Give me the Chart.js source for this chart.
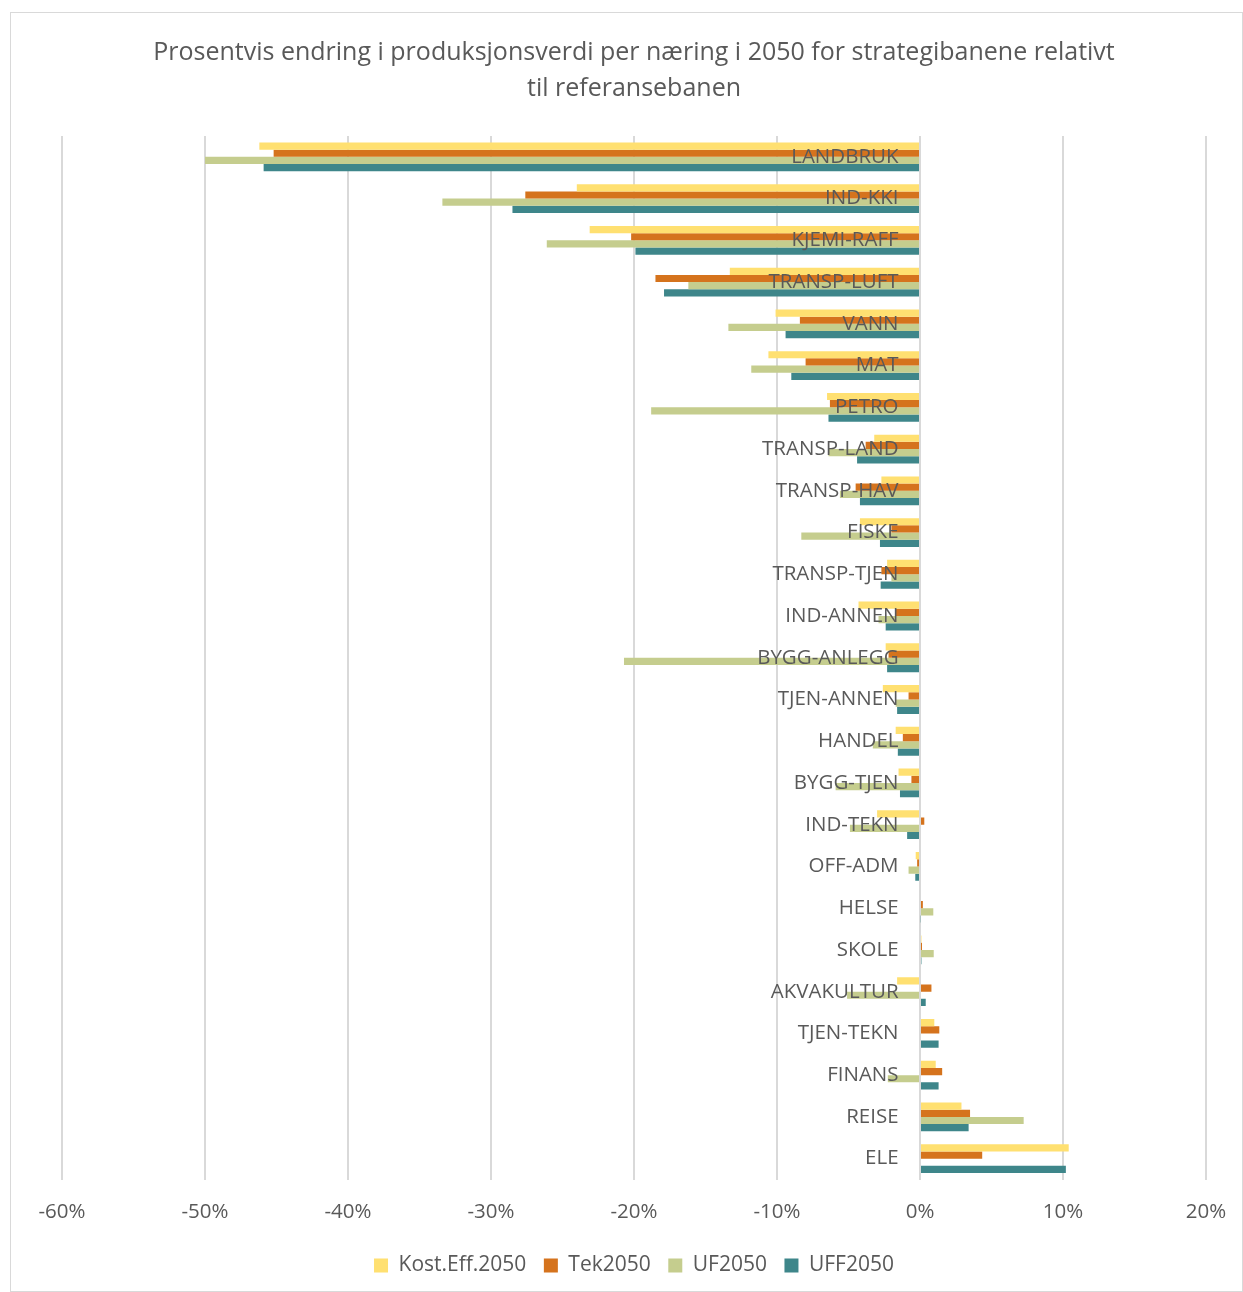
<!DOCTYPE html>
<html>
<head>
<meta charset="utf-8">
<script src="https://cdn.jsdelivr.net/npm/chart.js@4.4.1/dist/chart.umd.min.js"></script>
<style>
  body { margin: 0; background: #fff; }
  #wrap { position: absolute; left: 10px; top: 12px; width: 1231px; height: 1278px; border: 1px solid #d9d9d9; }
</style>
</head>
<body>
<div id="wrap"><canvas id="chart"></canvas></div>
<script>
const categories = ['LANDBRUK', 'IND-KKI', 'KJEMI-RAFF', 'TRANSP-LUFT', 'VANN', 'MAT', 'PETRO',
  'TRANSP-LAND', 'TRANSP-HAV', 'FISKE', 'TRANSP-TJEN', 'IND-ANNEN', 'BYGG-ANLEGG', 'TJEN-ANNEN',
  'HANDEL', 'BYGG-TJEN', 'IND-TEKN', 'OFF-ADM', 'HELSE', 'SKOLE', 'AKVAKULTUR', 'TJEN-TEKN',
  'FINANS', 'REISE', 'ELE'];

// values in percent
const kostEff2050 = [-46.2, -24.0, -23.1, -13.3, -10.1, -10.6, -6.5, -3.2, -2.7, -4.2, -2.3, -4.3, -2.4,
  -2.6, -1.7, -1.5, -3.0, -0.3, 0.07, 0.1, -1.6, 1.0, 1.1, 2.9, 10.4];
const tek2050 = [-45.2, -27.6, -20.2, -18.5, -8.4, -8.0, -6.3, -3.8, -4.5, -2.0, -2.7, -1.7, -2.2,
  -0.8, -1.2, -0.6, 0.3, -0.2, 0.2, 0.14, 0.8, 1.35, 1.55, 3.5, 4.35];
const uf2050 = [-50.0, -33.4, -26.1, -16.2, -13.4, -11.8, -18.8, -6.4, -5.6, -8.3, -2.0, -2.9, -20.7,
  -1.7, -3.3, -5.9, -4.9, -0.8, 0.93, 0.96, -5.1, 0, -2.25, 7.25, 0];
const uff2050 = [-45.9, -28.5, -19.9, -17.9, -9.4, -9.0, -6.4, -4.4, -4.2, -2.8, -2.75, -2.4, -2.3,
  -1.6, -1.55, -1.4, -0.9, -0.33, 0.05, 0.1, 0.4, 1.3, 1.3, 3.4, 10.2];

const seriesNames = ['Kost.Eff.2050', 'Tek2050', 'UF2050', 'UFF2050'];
const seriesColors = ['#FFE071', '#D5731D', '#C5CD8E', '#3E868A'];

const textColor = '#595959';
const fontFamily = '"Open Sans", sans-serif';

const ctx = document.getElementById('chart').getContext('2d');
new Chart(ctx, {
    type: 'bar',
    data: {
        labels: categories,
        datasets: [kostEff2050, tek2050, uf2050, uff2050].map((vals, i) => ({
            label: seriesNames[i],
            data: vals,
            backgroundColor: seriesColors[i],
            borderWidth: 0,
            categoryPercentage: 0.69,
            barPercentage: 1.0
        }))
    },
    options: {
        indexAxis: 'y',
        responsive: true,
        maintainAspectRatio: false,
        animation: false,
        layout: {
            padding: { left: 51, right: 36, top: 0, bottom: 5 }
        },
        plugins: {
            title: {
                display: true,
                text: ['Prosentvis endring i produksjonsverdi per næring i 2050 for strategibanene relativt',
                       'til referansebanen'],
                color: textColor,
                font: { family: fontFamily, size: 25, weight: 'normal', lineHeight: 1.44 },
                padding: { top: 22, bottom: 29 }
            },
            legend: {
                position: 'bottom',
                labels: {
                    color: textColor,
                    font: { family: fontFamily, size: 21 },
                    boxWidth: 14,
                    boxHeight: 14,
                    padding: 17.5
                }
            },
            tooltip: { enabled: false }
        },
        scales: {
            x: {
                min: -60,
                max: 20,
                afterFit: scale => {
                    scale.height = 58;
                    scale.paddingLeft = 0;
                    scale.paddingRight = 0;
                },
                ticks: {
                    stepSize: 10,
                    color: textColor,
                    font: { family: fontFamily, size: 20.5 },
                    padding: 20,
                    callback: v => v + '%'
                },
                grid: { color: '#d9d9d9', lineWidth: 2, drawTicks: false },
                border: { display: false }
            },
            y: {
                // labels sit just left of the zero line, drawn over the bars
                position: { x: -1.5 },
                grid: { display: false, drawTicks: false },
                border: { display: false },
                ticks: {
                    z: 1,
                    color: textColor,
                    font: { family: fontFamily, size: 20.5 },
                    padding: 0
                }
            }
        }
    }
});
</script>
</body>
</html>
